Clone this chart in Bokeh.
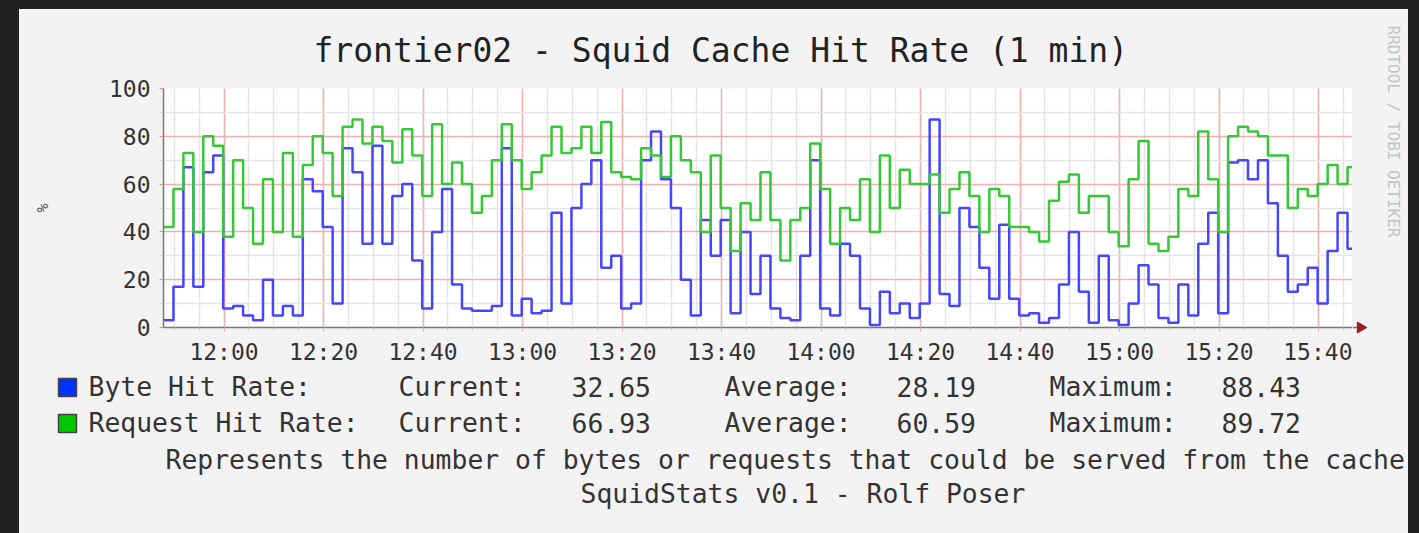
import math
from datetime import datetime, timedelta
from bokeh.plotting import figure
from bokeh.layouts import column, row
from bokeh.models import Range1d, FixedTicker, DatetimeTickFormatter
from bokeh.core.properties import value
from bokeh.embed import file_html
from bokeh.resources import INLINE

# ---------------- data (1 sample every 2 minutes) ----------------
START = datetime(2010, 6, 1, 11, 47, 50)
END = START + timedelta(minutes=239)
STEP_MIN = 2

byte_hit_rate = [
    3, 17, 67, 17, 65, 72, 8, 9, 5, 3,
    20, 5, 9, 5, 62, 57, 42, 10, 75, 65,
    35, 76, 35, 55, 60, 28, 8, 40, 58, 18,
    8, 7, 7, 9, 75, 5, 12, 6, 7, 48,
    10, 50, 60, 70, 25, 30, 8, 10, 70, 82,
    62, 50, 20, 5, 45, 30, 45, 6, 40, 14,
    30, 8, 4, 3, 30, 70, 8, 5, 35, 30,
    8, 1, 15, 6, 10, 4, 10, 87, 14, 9,
    50, 42, 25, 12, 43, 12, 5, 6, 2, 4,
    18, 40, 15, 2, 30, 3, 1, 10, 26, 18,
    4, 2, 18, 5, 35, 48, 6, 69, 70, 62,
    70, 52, 30, 15, 18, 25, 10, 32, 48, 33,
]
request_hit_rate = [
    42, 58, 73, 40, 80, 76, 38, 70, 50, 35,
    62, 40, 73, 38, 68, 80, 73, 55, 84, 87,
    77, 84, 78, 69, 83, 72, 55, 85, 60, 69,
    60, 48, 55, 70, 85, 70, 58, 65, 72, 84,
    73, 75, 84, 73, 86, 65, 63, 62, 75, 72,
    63, 80, 70, 65, 40, 72, 50, 32, 52, 45,
    65, 45, 28, 45, 50, 77, 58, 35, 50, 45,
    62, 40, 72, 50, 66, 60, 60, 64, 48, 58,
    65, 55, 40, 58, 55, 42, 42, 40, 36, 53,
    61, 64, 48, 55, 55, 40, 34, 62, 78, 35,
    32, 38, 58, 55, 82, 62, 40, 80, 84, 82,
    80, 72, 72, 50, 58, 55, 60, 68, 60, 67,
]

series_names = ["Byte Hit Rate:", "Request Hit Rate:"]
series_colors = ["#0033ff", "#00c800"]
line_colors = ["#4646ff", "#36c936"]
current_vals = ["32.65", "66.93"]
average_vals = ["28.19", "60.59"]
maximum_vals = ["88.43", "89.72"]

y_ticks = [0, 20, 40, 60, 80, 100]
y_minor_ticks = [10, 30, 50, 70, 90]
first_major_tick = datetime(2010, 6, 1, 12, 0)
first_minor_tick = datetime(2010, 6, 1, 11, 50)
n_major_ticks = 12   # 12:00 .. 15:40, every 20 min
n_minor_ticks = 48   # 11:50 .. 15:45, every 5 min

title_text = "frontier02 - Squid Cache Hit Rate (1 min)"
comment_lines = ["Represents the number of bytes or requests that could be served from the cache",
                 "SquidStats v0.1 - Rolf Poser"]
watermark = "RRDTOOL / TOBI OETIKER"
y_label = "%"

# ---------------- helpers ----------------
EPOCH = datetime(1970, 1, 1)


def ms(dt):
    return (dt - EPOCH).total_seconds() * 1000.0


times = [START + timedelta(minutes=STEP_MIN * i) for i in range(len(byte_hit_rate))] + [END]
x_major = [ms(first_major_tick + timedelta(minutes=20 * i)) for i in range(n_major_ticks)]
x_minor = [ms(first_minor_tick + timedelta(minutes=5 * i)) for i in range(n_minor_ticks)]

MONO = "DejaVu Sans Mono"
PANEL = "#f3f3f3"
TEXT = "#333333"
AXIS = "#777777"
ARROW = "#9a1c1c"
W = 1389
W_MAIN = 1333
W_RIGHT = W - W_MAIN
H_MAIN = 360
H_LEG = 164
FRAME_BOTTOM_PAD = 42


def strip(width, height):
    f = figure(width=width, height=height, x_range=Range1d(0, width), y_range=Range1d(0, height),
               output_backend="svg", toolbar_location=None,
               x_axis_location=None, y_axis_location=None,
               min_border_left=0, min_border_right=0, min_border_top=0, min_border_bottom=0,
               background_fill_color=PANEL, border_fill_color=PANEL, outline_line_color=None,
               frame_align=False)
    f.grid.visible = False
    return f


# ---------------- main chart ----------------
p = figure(width=W_MAIN, height=H_MAIN, x_axis_type="datetime",
           x_range=Range1d(START, END), y_range=Range1d(0, 100),
           output_backend="svg", toolbar_location=None,
           min_border_left=144, min_border_right=0, min_border_top=79,
           min_border_bottom=FRAME_BOTTOM_PAD,
           background_fill_color="white", border_fill_color=PANEL,
           outline_line_color=None, frame_align=False)

p.title.text = title_text
p.title.text_font = MONO
p.title.text_font_size = "33px"
p.title.text_font_style = "normal"
p.title.text_color = "#222222"
p.title.align = "left"
p.title.offset = 150
p.title.standoff = 37

xa = p.xaxis[0]
xa.ticker = FixedTicker(ticks=x_major, minor_ticks=x_minor)
xa.formatter = DatetimeTickFormatter(minutes="%H:%M", hourmin="%H:%M", hours="%H:%M")
ya = p.yaxis[0]
ya.ticker = FixedTicker(ticks=y_ticks, minor_ticks=y_minor_ticks)
for ax in (xa, ya):
    ax.axis_line_color = AXIS
    ax.axis_line_width = 1.5
    ax.major_tick_in = 0
    ax.major_tick_out = 4
    ax.minor_tick_in = 0
    ax.minor_tick_out = 3
    ax.major_tick_line_color = "#e08c8c"
    ax.minor_tick_line_color = "#c4c4c4"
    ax.major_label_text_font = MONO
    ax.major_label_text_font_size = "23px"
    ax.major_label_text_color = TEXT
xa.major_label_standoff = 7
ya.major_label_standoff = 9
ya.axis_label = y_label
ya.axis_label_text_font = MONO
ya.axis_label_text_font_size = "15px"
ya.axis_label_text_font_style = "normal"
ya.axis_label_text_color = "#555555"
ya.axis_label_standoff = 54

p.xgrid[0].ticker = xa.ticker
p.ygrid[0].ticker = ya.ticker
for g in p.grid:
    g.grid_line_color = "#f4b0b0"
    g.grid_line_width = 1.5
    g.minor_grid_line_color = "#e5e5e5"
    g.minor_grid_line_width = 1.5

for vals, col in zip([byte_hit_rate, request_hit_rate], line_colors):
    p.step(times, vals + [vals[-1]], mode="after", line_color=col, line_width=2.5)

# ---------------- right strip: x-axis arrow and rrdtool watermark ----------------
r = strip(W_RIGHT, H_MAIN)
axis_y = FRAME_BOTTOM_PAD
r.segment(x0=[0], y0=[axis_y], x1=[5], y1=[axis_y], line_color=AXIS, line_width=1.5)
r.scatter(x=[8], y=[axis_y], marker="triangle", size=11, angle=-math.pi / 2,
          fill_color=ARROW, line_color=ARROW)
r.text(x=[41], y=[238], text=[watermark], angle=-math.pi / 2,
       text_font=value(MONO), text_font_size="16px", text_color="#c4c4c4",
       text_align="center", text_baseline="alphabetic")

# ---------------- legend / comment area (pixel-like coordinates) ----------------
q = strip(W, H_LEG)

square_bottom = [137, 101]
row_text_y = [147, 111]
square_left, square_size = 39, 18
col_x = {"name": 69, "cur": 379, "cur_v": 552, "avg": 705, "avg_v": 877, "max": 1030, "max_v": 1202}

q.quad(left=[square_left] * 2, right=[square_left + square_size] * 2,
       bottom=square_bottom, top=[b + square_size for b in square_bottom],
       fill_color=series_colors, line_color="#444444", line_width=1.5)

tx, ty, tt = [], [], []
for i in range(2):
    for key, txt in [("name", series_names[i]), ("cur", "Current:"), ("cur_v", current_vals[i]),
                     ("avg", "Average:"), ("avg_v", average_vals[i]),
                     ("max", "Maximum:"), ("max_v", maximum_vals[i])]:
        tx.append(col_x[key])
        ty.append(row_text_y[i])
        tt.append(txt)
tx += [146, 561]
ty += [74, 40]
tt += comment_lines

q.text(x=tx, y=ty, text=tt, text_font=value(MONO), text_font_size="26.4px",
       text_color=TEXT, text_baseline="alphabetic", text_align="left")

top = row(p, r, spacing=0, styles={"background-color": PANEL})
layout = column(top, q, spacing=0, margin=(9, 0, 0, 19), styles={"background-color": PANEL})

html = file_html(layout, INLINE, title="frontier02 - Squid Cache Hit Rate")
html = html.replace("</head>", "<style>body{background:#222222;}</style></head>", 1)
open("out.html", "w").write(html)
